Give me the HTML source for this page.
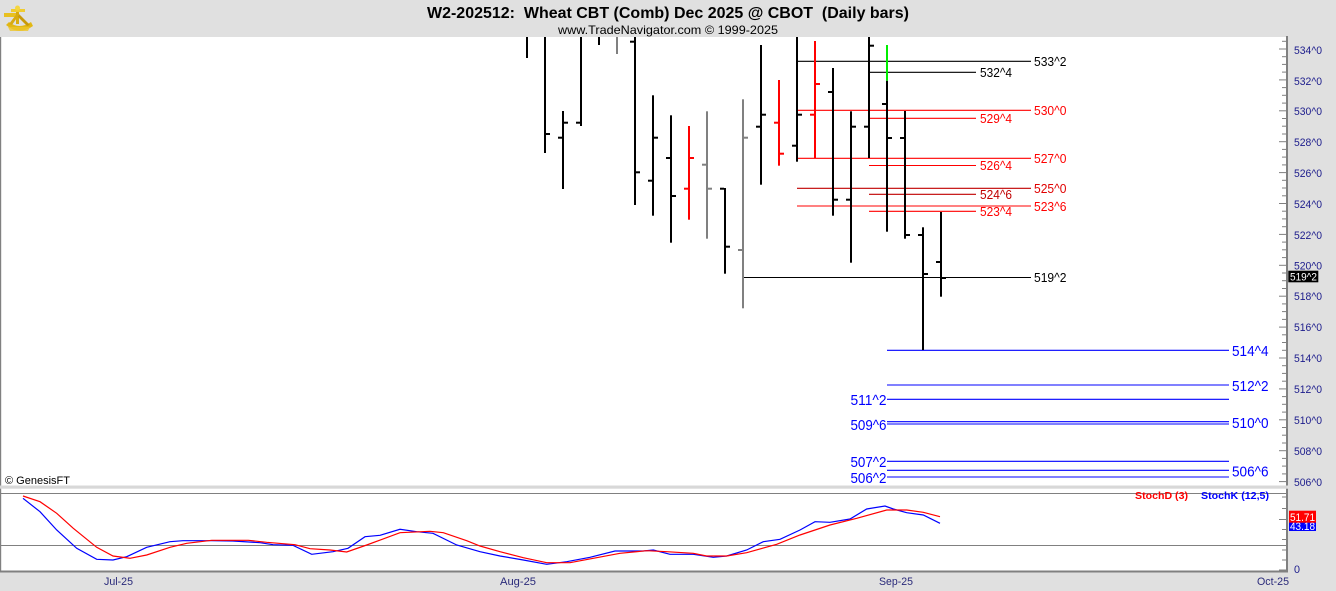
<!DOCTYPE html>
<html><head><meta charset="utf-8"><style>
html,body{margin:0;padding:0;background:#e0e0e0;}
svg{display:block;font-family:"Liberation Sans",Arial,sans-serif;}
</style></head><body>
<svg width="1336" height="591" viewBox="0 0 1336 591" xmlns="http://www.w3.org/2000/svg">
<rect x="0" y="0" width="1336" height="591" fill="#e0e0e0"/>
<!-- logo -->
<g>
<path d="M6,25 Q19,36 33,26 L31,22 Q19,30 9,22 Z" fill="#e2b814"/>
<path d="M16,7 L19,7 L19,24 L16,24 Z" fill="#d9ad10"/>
<path d="M11,9 L25,9 L25,12 L11,12 Z" fill="#f0cc30"/>
<path d="M4,13 L16,13 L16,17 L4,17 Z" fill="#e8c020"/>
<path d="M17,12 L30,25 L27,26 L16,15 Z" fill="#c99a08"/>
<path d="M18,12 L9,24 L12,25 L19,15 Z" fill="#d8aa12"/>
<circle cx="17.5" cy="8" r="2.5" fill="#f5d640"/>
<path d="M8,27 L30,27 L28,31 L10,31 Z" fill="#edc52a" opacity="0.8"/>
</g>
<!-- title -->
<text x="427" y="18" font-size="16" font-weight="bold" fill="#000" textLength="482" lengthAdjust="spacingAndGlyphs" xml:space="preserve" style="white-space:pre">W2-202512:  Wheat CBT (Comb) Dec 2025 @ CBOT  (Daily bars)</text>
<text x="558" y="34" font-size="12" fill="#000" textLength="220" lengthAdjust="spacingAndGlyphs">www.TradeNavigator.com © 1999-2025</text>

<!-- price panel -->
<rect x="1" y="37" width="1286" height="448.5" fill="#ffffff"/>
<rect x="0" y="37" width="1.2" height="448.5" fill="#808080"/>
<!-- separator -->
<rect x="0" y="485.5" width="1287" height="3.2" fill="#d8d8d8"/>
<!-- stoch panel -->
<rect x="1" y="488.7" width="1286" height="83" fill="#ffffff"/>
<rect x="0" y="488.7" width="1.2" height="83" fill="#808080"/>
<rect x="1" y="493" width="1286" height="1" fill="#808080"/>
<rect x="1" y="545" width="1286" height="1" fill="#808080"/>
<rect x="0" y="570.5" width="1288" height="2" fill="#808080"/>

<!-- axis line -->
<rect x="1286" y="36" width="2" height="449.5" fill="#808080"/>
<rect x="1286" y="488.7" width="2" height="83.5" fill="#808080"/>

<!-- price ticks -->
<g fill="#808080">
<rect x="1279" y="48.5" width="8" height="1"/><rect x="1282" y="56.2" width="5" height="1"/><rect x="1282" y="63.9" width="5" height="1"/><rect x="1282" y="71.6" width="5" height="1"/>
<rect x="1279" y="79.4" width="8" height="1"/><rect x="1282" y="87.1" width="5" height="1"/><rect x="1282" y="94.8" width="5" height="1"/><rect x="1282" y="102.6" width="5" height="1"/>
<rect x="1279" y="110.3" width="8" height="1"/><rect x="1282" y="118" width="5" height="1"/><rect x="1282" y="125.7" width="5" height="1"/><rect x="1282" y="133.5" width="5" height="1"/>
<rect x="1279" y="141.2" width="8" height="1"/><rect x="1282" y="148.9" width="5" height="1"/><rect x="1282" y="156.6" width="5" height="1"/><rect x="1282" y="164.4" width="5" height="1"/>
<rect x="1279" y="172.1" width="8" height="1"/><rect x="1282" y="179.8" width="5" height="1"/><rect x="1282" y="187.5" width="5" height="1"/><rect x="1282" y="195.3" width="5" height="1"/>
<rect x="1279" y="203" width="8" height="1"/><rect x="1282" y="210.7" width="5" height="1"/><rect x="1282" y="218.4" width="5" height="1"/><rect x="1282" y="226.2" width="5" height="1"/>
<rect x="1279" y="233.9" width="8" height="1"/><rect x="1282" y="241.6" width="5" height="1"/><rect x="1282" y="249.3" width="5" height="1"/><rect x="1282" y="257.1" width="5" height="1"/>
<rect x="1279" y="264.8" width="8" height="1"/><rect x="1282" y="272.5" width="5" height="1"/><rect x="1282" y="280.2" width="5" height="1"/><rect x="1282" y="288" width="5" height="1"/>
<rect x="1279" y="295.7" width="8" height="1"/><rect x="1282" y="303.4" width="5" height="1"/><rect x="1282" y="311.1" width="5" height="1"/><rect x="1282" y="318.9" width="5" height="1"/>
<rect x="1279" y="326.6" width="8" height="1"/><rect x="1282" y="334.3" width="5" height="1"/><rect x="1282" y="342" width="5" height="1"/><rect x="1282" y="349.8" width="5" height="1"/>
<rect x="1279" y="357.5" width="8" height="1"/><rect x="1282" y="365.2" width="5" height="1"/><rect x="1282" y="372.9" width="5" height="1"/><rect x="1282" y="380.7" width="5" height="1"/>
<rect x="1279" y="388.4" width="8" height="1"/><rect x="1282" y="396.1" width="5" height="1"/><rect x="1282" y="403.8" width="5" height="1"/><rect x="1282" y="411.6" width="5" height="1"/>
<rect x="1279" y="419.3" width="8" height="1"/><rect x="1282" y="427" width="5" height="1"/><rect x="1282" y="434.7" width="5" height="1"/><rect x="1282" y="442.5" width="5" height="1"/>
<rect x="1279" y="450.2" width="8" height="1"/><rect x="1282" y="457.9" width="5" height="1"/><rect x="1282" y="465.6" width="5" height="1"/><rect x="1282" y="473.4" width="5" height="1"/>
<rect x="1279" y="481.1" width="8" height="1"/><rect x="1282" y="40.8" width="5" height="1"/>
</g>
<!-- stoch ticks -->
<g fill="#808080">
<rect x="1282" y="496.5" width="5" height="1"/><rect x="1282" y="508" width="5" height="1"/><rect x="1279" y="519" width="8" height="1"/><rect x="1282" y="529" width="5" height="1"/><rect x="1282" y="539" width="5" height="1"/><rect x="1282" y="549.5" width="5" height="1"/><rect x="1282" y="559.5" width="5" height="1"/><rect x="1279" y="569.5" width="8" height="1"/>
</g>

<!-- price axis labels -->
<g font-size="11" fill="#1c1c8c">
<text x="1294" y="54" textLength="28" lengthAdjust="spacingAndGlyphs">534^0</text>
<text x="1294" y="85" textLength="28" lengthAdjust="spacingAndGlyphs">532^0</text>
<text x="1294" y="115" textLength="28" lengthAdjust="spacingAndGlyphs">530^0</text>
<text x="1294" y="146" textLength="28" lengthAdjust="spacingAndGlyphs">528^0</text>
<text x="1294" y="177" textLength="28" lengthAdjust="spacingAndGlyphs">526^0</text>
<text x="1294" y="208" textLength="28" lengthAdjust="spacingAndGlyphs">524^0</text>
<text x="1294" y="239" textLength="28" lengthAdjust="spacingAndGlyphs">522^0</text>
<text x="1294" y="269.5" textLength="28" lengthAdjust="spacingAndGlyphs">520^0</text>
<text x="1294" y="300" textLength="28" lengthAdjust="spacingAndGlyphs">518^0</text>
<text x="1294" y="331" textLength="28" lengthAdjust="spacingAndGlyphs">516^0</text>
<text x="1294" y="362" textLength="28" lengthAdjust="spacingAndGlyphs">514^0</text>
<text x="1294" y="393" textLength="28" lengthAdjust="spacingAndGlyphs">512^0</text>
<text x="1294" y="424" textLength="28" lengthAdjust="spacingAndGlyphs">510^0</text>
<text x="1294" y="455" textLength="28" lengthAdjust="spacingAndGlyphs">508^0</text>
<text x="1294" y="486" textLength="28" lengthAdjust="spacingAndGlyphs">506^0</text>
<text x="1294" y="573" textLength="6" lengthAdjust="spacingAndGlyphs">0</text>
</g>
<rect x="1288.3" y="270.7" width="30" height="11.6" fill="#000"/>
<text x="1290" y="280.5" font-size="11" fill="#fff" textLength="27" lengthAdjust="spacingAndGlyphs">519^2</text>
<rect x="1289" y="519" width="27" height="12" fill="#0000ff"/>
<text x="1290" y="530" font-size="11" fill="#fff" textLength="25" lengthAdjust="spacingAndGlyphs">43.18</text>
<rect x="1289" y="510.7" width="27" height="12" fill="#ff0000"/>
<text x="1290" y="521" font-size="11" fill="#fff" textLength="25" lengthAdjust="spacingAndGlyphs">51.71</text>

<!-- horizontal price lines -->
<g stroke-width="1.1">
<line x1="797" y1="61.3" x2="1031" y2="61.3" stroke="#000"/>
<line x1="869" y1="72.3" x2="976" y2="72.3" stroke="#000"/>
<line x1="797" y1="110.3" x2="1031" y2="110.3" stroke="#ff0000"/>
<line x1="869" y1="118.3" x2="976" y2="118.3" stroke="#ff0000"/>
<line x1="797" y1="158.3" x2="1031" y2="158.3" stroke="#ff0000"/>
<line x1="869" y1="165.5" x2="976" y2="165.5" stroke="#ff0000"/>
<line x1="797" y1="188.3" x2="1031" y2="188.3" stroke="#c00000"/>
<line x1="869" y1="194.3" x2="976" y2="194.3" stroke="#c00000"/>
<line x1="797" y1="206" x2="1031" y2="206" stroke="#ff0000"/>
<line x1="869" y1="211.3" x2="976" y2="211.3" stroke="#ff0000"/>
<line x1="743" y1="277.5" x2="1031" y2="277.5" stroke="#000"/>
<line x1="887" y1="350.3" x2="1229" y2="350.3" stroke="#0000ff"/>
<line x1="887" y1="385" x2="1229" y2="385" stroke="#0000ff"/>
<line x1="887" y1="399.3" x2="1229" y2="399.3" stroke="#0000ff"/>
<line x1="887" y1="421.7" x2="1229" y2="421.7" stroke="#0000ff"/>
<line x1="887" y1="424" x2="1229" y2="424" stroke="#0000ff"/>
<line x1="887" y1="461.3" x2="1229" y2="461.3" stroke="#0000ff"/>
<line x1="887" y1="470.3" x2="1229" y2="470.3" stroke="#0000ff"/>
<line x1="887" y1="477" x2="1229" y2="477" stroke="#0000ff"/>
</g>
<g font-size="13">
<text x="1034" y="66" fill="#000" textLength="32.5" lengthAdjust="spacingAndGlyphs">533^2</text>
<text x="980" y="77" fill="#000" textLength="32" lengthAdjust="spacingAndGlyphs">532^4</text>
<text x="1034" y="115" fill="#ff0000" textLength="32.5" lengthAdjust="spacingAndGlyphs">530^0</text>
<text x="980" y="123" fill="#ff0000" textLength="32" lengthAdjust="spacingAndGlyphs">529^4</text>
<text x="1034" y="163" fill="#ff0000" textLength="32.5" lengthAdjust="spacingAndGlyphs">527^0</text>
<text x="980" y="170" fill="#ff0000" textLength="32" lengthAdjust="spacingAndGlyphs">526^4</text>
<text x="1034" y="193" fill="#e00000" textLength="32.5" lengthAdjust="spacingAndGlyphs">525^0</text>
<text x="980" y="199" fill="#c00000" textLength="32" lengthAdjust="spacingAndGlyphs">524^6</text>
<text x="1034" y="211" fill="#ff0000" textLength="32.5" lengthAdjust="spacingAndGlyphs">523^6</text>
<text x="980" y="216" fill="#ff0000" textLength="32" lengthAdjust="spacingAndGlyphs">523^4</text>
<text x="1034" y="282" fill="#000" textLength="32.5" lengthAdjust="spacingAndGlyphs">519^2</text>
</g>
<g font-size="15" fill="#0000ff">
<text x="1232" y="356" textLength="36.5" lengthAdjust="spacingAndGlyphs">514^4</text>
<text x="1232" y="391" textLength="36.5" lengthAdjust="spacingAndGlyphs">512^2</text>
<text x="886.5" y="405" text-anchor="end" textLength="36" lengthAdjust="spacingAndGlyphs">511^2</text>
<text x="1232" y="428" textLength="36.5" lengthAdjust="spacingAndGlyphs">510^0</text>
<text x="886.5" y="430" text-anchor="end" textLength="36" lengthAdjust="spacingAndGlyphs">509^6</text>
<text x="886.5" y="467" text-anchor="end" textLength="36" lengthAdjust="spacingAndGlyphs">507^2</text>
<text x="1232" y="476.5" textLength="36.5" lengthAdjust="spacingAndGlyphs">506^6</text>
<text x="886.5" y="483" text-anchor="end" textLength="36" lengthAdjust="spacingAndGlyphs">506^2</text>
</g>

<!-- bars -->
<g fill="#000">
<rect x="526" y="37" width="2" height="21"/>
<rect x="544" y="37" width="2" height="116"/><rect x="546" y="133" width="4" height="2"/>
<rect x="562" y="111" width="2" height="78"/><rect x="558" y="136.7" width="4" height="2"/><rect x="564" y="121.7" width="4" height="2"/>
<rect x="580" y="37" width="2" height="89"/><rect x="576" y="121.7" width="4" height="2"/>
<rect x="598" y="37" width="2" height="8"/>
<rect x="634" y="37" width="2" height="168"/><rect x="630" y="40.7" width="4" height="2"/><rect x="636" y="171.3" width="4" height="2"/>
<rect x="652" y="95.3" width="2" height="120.4"/><rect x="648" y="179.7" width="4" height="2"/><rect x="654" y="136.7" width="4" height="2"/>
<rect x="670" y="115.3" width="2" height="127.4"/><rect x="666" y="157" width="4" height="2"/><rect x="672" y="195" width="4" height="2"/>
<rect x="724" y="188" width="2" height="85.7"/><rect x="720" y="187.7" width="4" height="2"/><rect x="726" y="245.7" width="4" height="2"/>
<rect x="760" y="45" width="2" height="139.7"/><rect x="756" y="125.7" width="4" height="2"/><rect x="762" y="113.7" width="4" height="2"/>
<rect x="796" y="37" width="2" height="124.7"/><rect x="792" y="144.7" width="4" height="2"/><rect x="798" y="113.7" width="4" height="2"/>
<rect x="832" y="68" width="2" height="147.7"/><rect x="828" y="91" width="4" height="2"/><rect x="834" y="198.7" width="4" height="2"/>
<rect x="850" y="111.3" width="2" height="151.4"/><rect x="846" y="198.7" width="4" height="2"/><rect x="852" y="125.7" width="4" height="2"/>
<rect x="868" y="37" width="2" height="121"/><rect x="864" y="125.7" width="4" height="2"/><rect x="870" y="44.7" width="4" height="2"/>
<rect x="886" y="80.7" width="2" height="151"/><rect x="882" y="103" width="4" height="2"/><rect x="888" y="137" width="4" height="2"/>
<rect x="904" y="111" width="2" height="127.7"/><rect x="900" y="137" width="4" height="2"/><rect x="906" y="234" width="4" height="2"/>
<rect x="922" y="227.3" width="2" height="122.7"/><rect x="918" y="234" width="4" height="2"/><rect x="924" y="273" width="4" height="2"/>
<rect x="940" y="212" width="2" height="84.7"/><rect x="936" y="261" width="4" height="2"/><rect x="942" y="277" width="4" height="2"/>
</g>
<g fill="#808080">
<rect x="616" y="37" width="2" height="17"/>
<rect x="706" y="111.3" width="2" height="127.4"/><rect x="702" y="163.7" width="4" height="2"/><rect x="708" y="187.7" width="4" height="2"/>
<rect x="742" y="99.3" width="2" height="209"/><rect x="738" y="249" width="4" height="2"/><rect x="744" y="136.7" width="4" height="2"/>
</g>
<g fill="#ff0000">
<rect x="688" y="126" width="2" height="93.7"/><rect x="684" y="187.7" width="4" height="2"/><rect x="690" y="157" width="4" height="2"/>
<rect x="778" y="80" width="2" height="85.7"/><rect x="774" y="121.7" width="4" height="2"/><rect x="780" y="152.7" width="4" height="2"/>
<rect x="814" y="41" width="2" height="117.3"/><rect x="810" y="113.7" width="4" height="2"/><rect x="816" y="83" width="4" height="2"/>
</g>
<rect x="886" y="45" width="2" height="35.7" fill="#00ee00"/>

<text x="5" y="484" font-size="11" fill="#000">© GenesisFT</text>

<!-- stochastics -->
<polyline fill="none" stroke="#0000ff" stroke-width="1.2" points="23,498.3 40,511.7 56.7,530 76.7,548.3 96.7,559.3 113,560 126.7,556.7 146.7,547.3 170,541.7 183,540.7 211.7,540.7 233,541 260,542.7 273,544.7 293,545.3 311.7,554.3 333,551.7 348,548.3 365,536.7 380,535.3 400,529.3 416.7,531.7 433,533.3 456.7,545 480,551.7 500,556 523.3,560 546.7,564.3 566.7,561.7 590,557.3 615,551 643.3,551 653.3,550 670,554.3 693.3,554.3 713.3,557.3 726.7,556 746.7,550 763.3,541.7 780,539.3 800,530 815,521.7 830,522.3 850,519 866.7,509 885,506 893.3,509 906.7,512.7 923.3,515 940,523.3"/>
<polyline fill="none" stroke="#ff0000" stroke-width="1.2" points="23,496 40,501.7 56.7,513.3 73.3,528.3 96.7,547.3 113,556 130,558.3 146.7,555 170,547.3 186.7,543.3 211.7,540.3 248.3,540.3 266.7,542.3 295,544.7 310,548.7 330,550 346.7,552 366.7,545 400,532.7 430,531.3 443.3,532.7 466.7,540.7 480,546 500,551.7 523.3,557.7 546.7,562.7 570,562.7 593.3,558.3 620,553.3 646.7,550.7 666.7,551.7 693.3,553.3 706.7,556 726.7,556 746.7,552.7 776.7,544.3 800,535 830,525 856.7,518.3 886.7,510 906.7,510 923.3,512.3 940,516.7"/>
<text x="1135" y="499" font-size="10" font-weight="bold" fill="#ff0000" textLength="53" lengthAdjust="spacingAndGlyphs">StochD (3)</text>
<text x="1201" y="499" font-size="10" font-weight="bold" fill="#0000ff" textLength="68" lengthAdjust="spacingAndGlyphs">StochK (12,5)</text>

<!-- dates -->
<g font-size="11" fill="#2a2a7a">
<text x="104" y="585" textLength="29" lengthAdjust="spacingAndGlyphs">Jul-25</text>
<text x="500" y="585" textLength="36" lengthAdjust="spacingAndGlyphs">Aug-25</text>
<text x="879" y="585" textLength="34" lengthAdjust="spacingAndGlyphs">Sep-25</text>
<text x="1257" y="585" textLength="32" lengthAdjust="spacingAndGlyphs">Oct-25</text>
</g>
</svg>
</body></html>
